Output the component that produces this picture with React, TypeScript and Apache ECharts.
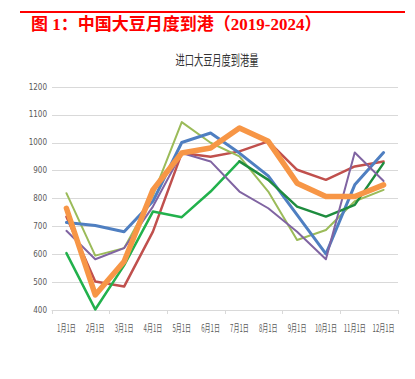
import React, { useEffect, useRef } from "react";
import * as echarts from "echarts";

const categories = ["1月1日", "2月1日", "3月1日", "4月1日", "5月1日", "6月1日", "7月1日", "8月1日", "9月1日", "10月1日", "11月1日", "12月1日"];
const blueValues = [714, 703, 681, 790, 1001, 1035, 963, 881, 741, 601, 849, 965];
const redValues = [735, 502, 484, 681, 963, 950, 969, 1005, 903, 867, 915, 933];
const oliveValues = [819, 595, 622, 810, 1074, 1000, 951, 825, 651, 687, 790, 831];
const purpleValues = [684, 582, 622, 771, 963, 933, 825, 765, 681, 582, 965, 863];
const greenValuesA = [604, 402, 560, 753, 733, 825, 933, null, null, null, null, null];
const greenValuesB = [null, null, null, null, null, null, 933, 867, 771, 735, 777, 927];
const orangeValues = [765, 454, 574, 831, 963, 981, 1053, 1005, 855, 807, 807, 849];
const yTicks = { min: 400, max: 1200, interval: 100 };

const titleText = "图 1：中国大豆月度到港（2019-2024）";
const subTitleText = "进口大豆月度到港量";

export default function App() {
  const ref = useRef<HTMLDivElement>(null);
  useEffect(() => {
    if (!ref.current) return;
    const chart = echarts.init(ref.current, null, { renderer: "svg" });
    const mk = (name: string, data: any[], color: string, width: number, z: number) => ({
      name,
      type: "line",
      data,
      symbol: "none",
      z,
      connectNulls: false,
      lineStyle: { color, width, cap: "round", join: "round" },
      itemStyle: { color },
    });
    chart.setOption({
      animation: false,
      backgroundColor: "#ffffff",
      grid: { left: 52, right: 17, top: 87, bottom: 69 },
      xAxis: {
        type: "category",
        data: categories,
        boundaryGap: true,
        axisLine: { show: true, lineStyle: { color: "#D9D9D9", width: 1 } },
        axisTick: { show: true, length: 4, lineStyle: { color: "#D9D9D9" } },
        axisLabel: { show: false },
        splitLine: { show: false },
      },
      yAxis: {
        type: "value",
        min: yTicks.min,
        max: yTicks.max,
        interval: yTicks.interval,
        axisLine: { show: false },
        axisTick: { show: false },
        axisLabel: {
          fontSize: 8,
          color: "#595959",
          margin: 5,
          formatter: (v: number) => String(v),
          fontFamily: "'Liberation Sans Narrow', 'DejaVu Sans Condensed', 'Liberation Sans', sans-serif",
        },
        splitLine: { lineStyle: { color: "#D9D9D9", width: 1 } },
      },
      series: [
        mk("蓝", blueValues, "#4F7FC1", 3, 3),
        mk("红", redValues, "#C0504D", 2.5, 2),
        mk("浅绿", oliveValues, "#9BBB59", 2, 2),
        mk("紫", purpleValues, "#8064A2", 2, 4),
        mk("绿A", greenValuesA, "#22B14C", 2.5, 3),
        mk("绿B", greenValuesB, "#1E8C3E", 2.5, 3),
        mk("橙", orangeValues, "#F79646", 5.5, 6),
      ],
    });
    const baseY = chart.convertToPixel({ yAxisIndex: 0 }, yTicks.min) as number;
    const labels = categories.map((c, i) => {
      const px = chart.convertToPixel({ xAxisIndex: 0 }, i) as number;
      return {
        type: "text",
        id: "xl" + i,
        x: px,
        y: baseY + 17,
        scaleX: 0.6,
        style: {
          text: c,
          fill: "#595959",
          fontSize: 10,
          fontFamily: "'Noto Sans CJK SC', sans-serif",
          textAlign: "center",
          textVerticalAlign: "middle",
        },
      };
    });
    chart.setOption({
      graphic: [
        { type: "line", id: "redline", shape: { x1: 20, y1: 12, x2: 405, y2: 12 }, style: { stroke: "#FF0000", lineWidth: 2 } },
        {
          type: "text",
          id: "title",
          x: 31,
          y: 24,
          style: {
            text: titleText,
            fill: "#FF0000",
            fontSize: 17,
            fontWeight: "bold",
            fontFamily: "'Liberation Serif', 'Noto Sans CJK SC', serif",
            textVerticalAlign: "middle",
            textAlign: "left",
          },
        },
        {
          type: "text",
          id: "subtitle",
          x: 217,
          y: 59,
          scaleX: 0.66,
          style: {
            text: subTitleText,
            fill: "#333333",
            fontSize: 14,
            fontFamily: "'Noto Sans CJK SC', sans-serif",
            textAlign: "center",
            textVerticalAlign: "middle",
          },
        },
        ...labels,
      ],
    });
    return () => chart.dispose();
  }, []);
  return <div ref={ref} style={{ position: "fixed", left: 0, top: 0, width: 415, height: 379 }} />;
}
